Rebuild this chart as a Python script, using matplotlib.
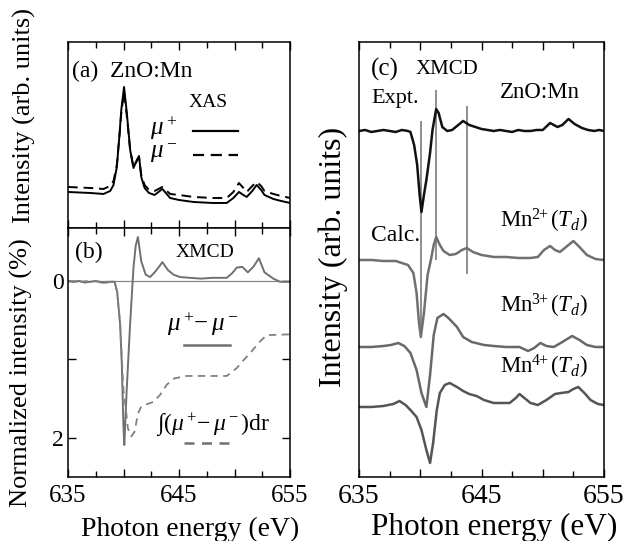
import numpy as np
import matplotlib.pyplot as plt
from matplotlib.ticker import MultipleLocator

plt.rcParams['font.family'] = 'Liberation Serif'
plt.rcParams['mathtext.fontset'] = 'custom'
plt.rcParams['mathtext.rm'] = 'Liberation Serif'
plt.rcParams['mathtext.it'] = 'Liberation Serif:italic'
plt.rcParams['axes.linewidth'] = 1.1

# --- (a) XAS, mu+ and mu- ---
e_xas = [635, 636, 637, 638.2, 638.8, 639.1, 639.4, 639.65, 639.8, 640.05, 640.3, 640.6,
         640.9, 641.2, 641.4, 641.6, 641.9, 642.3, 642.8, 643.5, 644.2, 645, 646.3, 648,
         649.3, 649.9, 650.4, 650.8, 651.1, 651.6, 652.0, 652.4, 652.7, 653.5, 654.2, 655]
mu_plus = [0.36, 0.355, 0.35, 0.34, 0.37, 0.43, 0.61, 0.95, 1.18, 1.41, 1.15, 0.78,
           0.60, 0.68, 0.72, 0.51, 0.40, 0.35, 0.33, 0.39, 0.30, 0.28, 0.26, 0.25,
           0.25, 0.30, 0.36, 0.33, 0.31, 0.37, 0.43, 0.38, 0.33, 0.29, 0.27, 0.25]
mu_minus = [0.41, 0.405, 0.40, 0.39, 0.42, 0.47, 0.63, 0.94, 1.15, 1.36, 1.12, 0.78,
            0.61, 0.67, 0.70, 0.53, 0.43, 0.38, 0.37, 0.41, 0.34, 0.33, 0.31, 0.30,
            0.30, 0.36, 0.45, 0.40, 0.36, 0.42, 0.46, 0.42, 0.37, 0.34, 0.32, 0.30]

# --- (b) XMCD and its integral (normalized, %) ---
e_xmcd = [635, 635.5, 636, 636.5, 637, 637.5, 638, 638.5, 638.9, 639.2, 639.43, 639.7,
          639.85, 639.99, 640.07, 640.28, 640.59, 640.9, 641.1, 641.3, 641.6, 642.0,
          642.4, 642.8, 643.2, 643.5, 644.0, 644.5, 645.1, 646, 647, 648, 649.3, 649.8,
          650.2, 650.7, 651.2, 651.7, 652.2, 652.7, 653.5, 654.1, 655]
xmcd = [0.0, 0.01, 0.0, 0.02, 0.01, 0.0, 0.02, 0.02, 0.01, 0.01, 0.14, 0.56,
        1.07, 1.83, 2.09, 1.41, 0.56, -0.17, -0.45, -0.56, -0.25, -0.08,
        -0.05, -0.11, -0.18, -0.24, -0.14, -0.08, -0.05, -0.04, -0.03, -0.04, -0.04, -0.10,
        -0.17, -0.18, -0.11, -0.18, -0.29, -0.11, -0.03, 0.01, 0.01]

e_int = [635, 636, 637, 638, 638.9, 639.2, 639.43, 639.7, 639.85, 640.0, 640.2, 640.4,
         640.7, 641.0, 641.3, 641.6, 642.1, 642.7, 643.3, 643.9, 644.6, 645.7, 649.3,
         650.2, 650.8, 651.4, 652.3, 652.9, 655]
xmcd_int = [0.0, 0.01, 0.0, 0.01, 0.01, 0.01, 0.14, 0.56, 1.0, 1.4, 1.62, 1.88,
            1.98, 1.92, 1.69, 1.60, 1.57, 1.54, 1.45, 1.32, 1.24, 1.21, 1.21,
            1.11, 1.01, 0.92, 0.77, 0.69, 0.68]

# --- (c) XMCD experiment vs. calculations (relative to own baseline) ---
e_expt = [635, 635.5, 636, 636.5, 637, 637.5, 638, 638.5, 639.0, 639.2, 639.5, 639.75,
          639.95, 640.1, 640.3, 640.5, 640.8, 641.0, 641.3, 641.5, 641.8, 642.2, 642.6,
          643.0, 643.5, 644.0, 644.5, 645.0, 645.5, 646.0, 646.5, 647.0, 647.5, 648.0,
          648.5, 649.0, 649.5, 650.0, 650.6, 651.2, 651.6, 652.1, 652.6, 653.2, 653.7,
          654.2, 654.6, 655.0]
expt = [0, 0.01, -0.01, 0, 0.01, 0, -0.01, 0.01, 0, -0.01, -0.14, -0.34,
        -0.64, -0.81, -0.64, -0.49, -0.22, 0.01, 0.22, 0.18, 0.04, 0, 0.01,
        0.05, 0.10, 0.06, 0.04, 0.02, 0.01, 0, 0.01, 0, -0.01, 0.01,
        0, 0, 0.01, 0.01, 0.08, 0.04, 0.06, 0.12, 0.07, 0.03, 0.01,
        0, 0.01, 0]

e_mn2 = [635, 636, 637, 638, 638.5, 639.0, 639.44, 639.7, 639.9, 640.05, 640.3, 640.6,
         640.9, 641.1, 641.3, 641.6, 641.9, 642.4, 642.9, 643.4, 643.8, 644.3, 645.0,
         646, 647, 648, 649, 649.6, 650.1, 650.6, 651.0, 651.4, 652.0, 652.5, 653.0,
         653.6, 654.3, 655]
mn2 = [0, 0, -0.01, -0.01, -0.03, -0.05, -0.13, -0.33, -0.63, -0.77, -0.53, -0.15,
       0.02, 0.15, 0.23, 0.15, 0.09, 0.05, 0.06, 0.10, 0.12, 0.08, 0.05,
       0.03, 0.03, 0.02, 0.02, 0.03, 0.10, 0.14, 0.10, 0.08, 0.14, 0.19, 0.13,
       0.05, 0.01, 0]

e_mn3 = [635, 636, 637, 637.6, 638.2, 638.7, 639.2, 639.7, 640.1, 640.5, 640.8, 641.1,
         641.4, 641.9, 642.3, 643.0, 643.5, 644.2, 645.2, 646, 647, 648.1, 648.8, 649.3,
         649.8, 650.3, 650.9, 651.6, 652.4, 653.0, 653.6, 654.3, 655]
mn3 = [0, 0, 0.01, 0.02, 0.04, 0.01, -0.06, -0.23, -0.46, -0.60, -0.28, 0.12,
       0.29, 0.33, 0.29, 0.20, 0.10, 0.05, 0.02, 0.01, 0, 0, -0.04, -0.01,
       0.04, 0.01, 0, 0.05, 0.11, 0.07, 0.02, 0, 0]

e_mn4 = [635, 636, 637, 637.8, 638.3, 638.8, 639.2, 639.7, 640.1, 640.5, 640.8, 641.05,
         641.35, 641.6, 642.0, 642.4, 643.0, 643.5, 644.0, 644.6, 645.2, 646.0, 647.3,
         647.8, 648.1, 648.5, 649.0, 649.6, 650.3, 651.0, 651.5, 652.1, 652.5, 652.9,
         653.4, 653.9, 654.5, 655]
mn4 = [0, 0, 0.01, 0.03, 0.06, 0.02, -0.03, -0.10, -0.23, -0.43, -0.56, -0.36,
       -0.03, 0.14, 0.22, 0.24, 0.20, 0.16, 0.13, 0.11, 0.07, 0.04, 0.04,
       0.09, 0.13, 0.09, 0.04, 0.02, 0.07, 0.13, 0.14, 0.15, 0.18, 0.20,
       0.14, 0.07, 0.03, 0.02]

offsets = [3.46, 2.17, 1.30, 0.70]
calc_labels = ['Mn$^{2\\!\\!+}$($T_d$)', 'Mn$^{3\\!\\!+}$($T_d$)', 'Mn$^{4\\!\\!+}$($T_d$)']

# guide lines in (c): energy, y-from, y-to
guide_e = [640.05, 641.3, 643.8]
guide_lo = [1.40, 2.17, 2.03]
guide_hi = [3.56, 3.87, 3.71]

fig = plt.figure(figsize=(6.25, 5.41), dpi=100)
ax_a = fig.add_axes([0.1088, 0.5786, 0.3552, 0.3438])
ax_b = fig.add_axes([0.1088, 0.1183, 0.3552, 0.4603])
ax_c = fig.add_axes([0.5744, 0.1183, 0.392, 0.8041])

for ax in (ax_a, ax_b, ax_c):
    ax.set_xlim(635, 655)
    ax.xaxis.set_major_locator(MultipleLocator(5))
    ax.xaxis.set_minor_locator(MultipleLocator(2.5))
    ax.tick_params(axis='x', which='both', direction='in', top=True, bottom=True)
    ax.tick_params(axis='x', which='major', length=6, width=1.0)
    ax.tick_params(axis='x', which='minor', length=4.5, width=1.0)

# panel (a)
ax_a.plot(e_xas, mu_plus, color='black', lw=1.4)
ax_a.plot(e_xas, mu_minus, color='black', lw=1.4, dashes=(5, 3))
ax_a.set_ylim(0, 1.86)
ax_a.set_yticks([])
ax_a.tick_params(axis='x', labelbottom=False)
ax_a.text(0.018, 0.839, '(a)  ZnO:Mn', transform=ax_a.transAxes, fontsize=17, va='center')
ax_a.text(0.631, 0.677, 'XAS', transform=ax_a.transAxes, fontsize=14, ha='center', va='center')
ax_a.text(0.49, 0.538, '$\\mu^+$', transform=ax_a.transAxes, fontsize=18, ha='right', va='center')
ax_a.text(0.49, 0.403, '$\\mu^-$', transform=ax_a.transAxes, fontsize=18, ha='right', va='center')
ax_a.plot([0.563, 0.766], [0.522, 0.522], color='black', lw=1.6, transform=ax_a.transAxes)
ax_a.plot([0.563, 0.766], [0.392, 0.392], color='black', lw=1.6, dashes=(5, 3),
          transform=ax_a.transAxes)

# panel (b)
ax_b.axhline(0, color='#888888', lw=0.9)
ax_b.plot(e_xmcd, xmcd, color='#707070', lw=1.4)
ax_b.plot(e_int, xmcd_int, color='#808080', lw=1.3, dashes=(4, 3))
ax_b.set_ylim(2.497, -0.675)
ax_b.set_yticks([0, 1, 2])
ax_b.set_yticklabels(['0', '', '2'])
ax_b.set_xticks([635, 640, 645, 650, 655])
ax_b.set_xticklabels(['635', '', '645', '', '655'])
ax_b.tick_params(axis='y', direction='in', left=True, right=True, length=6, width=1.0,
                 labelsize=17, pad=3)
ax_b.tick_params(axis='x', labelsize=18, pad=6)
ax_b.text(0.032, 0.900, '(b)', transform=ax_b.transAxes, fontsize=17, va='center')
ax_b.text(0.617, 0.900, 'XMCD', transform=ax_b.transAxes, fontsize=14, ha='center', va='center')
ax_b.text(0.608, 0.615, '$\\mu^+\\!\\!-\\mu^-$', transform=ax_b.transAxes, fontsize=18,
          ha='center', va='center')
ax_b.plot([0.523, 0.730], [0.530, 0.530], color='#707070', lw=1.8, transform=ax_b.transAxes)
ax_b.text(0.653, 0.212, '∫($\\mu^+\\!\\!-\\mu^-$)dr', transform=ax_b.transAxes, fontsize=17,
          ha='center', va='center')
ax_b.plot([0.523, 0.730], [0.137, 0.137], color='#707070', lw=1.8, dashes=(4, 3),
          transform=ax_b.transAxes)

# panel (c)
ax_c.vlines(guide_e, guide_lo, guide_hi, color='#707070', lw=1.1)
ax_c.plot(e_expt, np.array(expt) + offsets[0], color='#111111', lw=1.8)
calc_colors = ['#707070', '#686868', '#555555']
for (e, v), off, col in zip([(e_mn2, mn2), (e_mn3, mn3), (e_mn4, mn4)], offsets[1:], calc_colors):
    ax_c.plot(e, np.array(v) + off, color=col, lw=1.8)
ax_c.set_ylim(0, 4.35)
ax_c.set_yticks([])
ax_c.set_xticks([635, 640, 645, 650, 655])
ax_c.set_xticklabels(['635', '', '645', '', '655'])
ax_c.tick_params(axis='x', labelsize=20, pad=5)
ax_c.text(0.049, 0.936, '(c)', transform=ax_c.transAxes, fontsize=18, va='center')
ax_c.text(0.359, 0.936, 'XMCD', transform=ax_c.transAxes, fontsize=15, ha='center', va='center')
ax_c.text(0.049, 0.871, 'Expt.', transform=ax_c.transAxes, fontsize=16, va='center')
ax_c.text(0.739, 0.885, 'ZnO:Mn', transform=ax_c.transAxes, fontsize=16.5, ha='center', va='center')
ax_c.text(0.049, 0.556, 'Calc.', transform=ax_c.transAxes, fontsize=17, va='center')
for lab, ypos in zip(calc_labels, [0.589, 0.393, 0.253]):
    ax_c.text(0.576, ypos, lab, transform=ax_c.transAxes, fontsize=16.5, va='center')

# axis titles
fig.text(0.0384, 0.787, 'Intensity (arb. units)', rotation=90, fontsize=19, ha='center', va='center')
fig.text(0.035, 0.312, 'Normalized intensity (%)', rotation=90, fontsize=19, ha='center', va='center')
fig.text(0.533, 0.525, 'Intensity (arb. units)', rotation=90, fontsize=23, ha='center', va='center')
fig.text(0.304, 0.010, 'Photon energy (eV)', fontsize=20, ha='center', va='baseline')
fig.text(0.790, 0.012, 'Photon energy (eV)', fontsize=22.5, ha='center', va='baseline')

fig.savefig('out.png', dpi=100)
